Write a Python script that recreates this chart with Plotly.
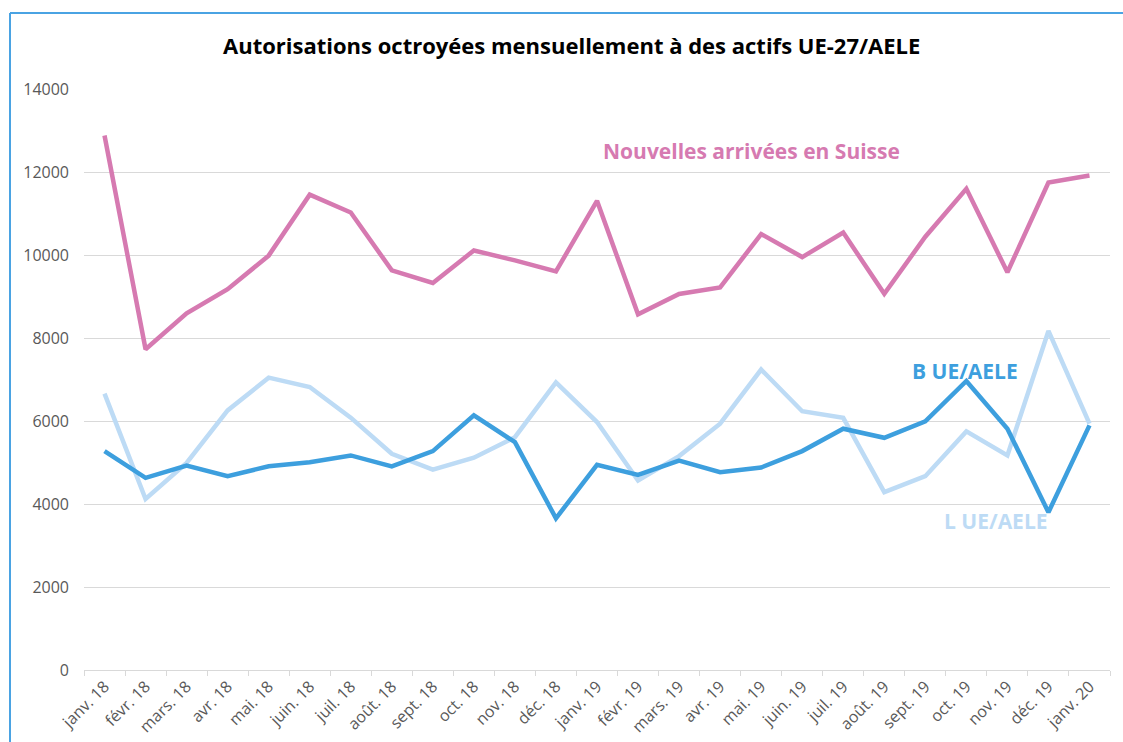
import plotly.graph_objects as go

W, H = 1123, 742
L, R, T, B = 84, 13, 89, 72

months = ["janv. 18", "févr. 18", "mars. 18", "avr. 18", "mai. 18", "juin. 18", "juil. 18",
          "août. 18", "sept. 18", "oct. 18", "nov. 18", "déc. 18",
          "janv. 19", "févr. 19", "mars. 19", "avr. 19", "mai. 19", "juin. 19", "juil. 19",
          "août. 19", "sept. 19", "oct. 19", "nov. 19", "déc. 19", "janv. 20"]

nouvelles = [12880, 7730, 8595, 9175, 9985, 11455, 11025, 9630, 9325, 10110, 9870, 9605,
             11305, 8570, 9060, 9220, 10505, 9950, 10540, 9065, 10440, 11595, 9585, 11745, 11915]
b_ue = [5275, 4630, 4925, 4670, 4910, 5005, 5170, 4905, 5275, 6135, 5490, 3655,
        4945, 4700, 5045, 4765, 4880, 5275, 5815, 5595, 5990, 6965, 5815, 3800, 5895]
l_ue = [6660, 4120, 4990, 6255, 7045, 6820, 6080, 5210, 4830, 5115, 5610, 6930,
        5975, 4565, 5155, 5935, 7240, 6235, 6075, 4285, 4670, 5750, 5170, 8170, 5935]

y_ticks = [0, 2000, 4000, 6000, 8000, 10000, 12000, 14000]

PINK = "#D67AB1"
DARK = "#3D9FDE"
LIGHT = "#BDDBF5"
FONT = "Open Sans"

fig = go.Figure()
for vals, col in [(l_ue, LIGHT), (b_ue, DARK), (nouvelles, PINK)]:
    fig.add_trace(go.Scatter(x=months, y=vals, mode="lines",
                             line=dict(color=col, width=4.5), hoverinfo="skip"))

pw = W - L - R
ph = H - T - B
def px(x):
    return (x - L) / pw
def py(y):
    return (H - B - y) / ph

annos = [
    ("Nouvelles arrivées en Suisse", 751, 151, PINK),
    ("B UE/AELE", 965, 371, DARK),
    ("L UE/AELE", 996, 521, LIGHT),
]
annotations = []
for txt, x, y, c in annos:
    annotations.append(dict(text=f"<b>{txt}</b>", x=px(x), y=py(y), xref="paper", yref="paper",
                            showarrow=False, xanchor="center", yanchor="middle",
                            font=dict(family=FONT, size=21, color=c)))
annotations.append(dict(text="<b>Autorisations octroyées mensuellement à des actifs UE-27/AELE</b>",
                        x=px(571), y=py(45), xref="paper", yref="paper", showarrow=False,
                        xanchor="center", yanchor="middle",
                        font=dict(family=FONT, size=22, color="#000000")))

shapes = [
    dict(type="line", xref="paper", yref="paper", x0=px(10), x1=px(10), y0=py(13), y1=py(750),
         line=dict(color="#4AA3E3", width=2)),
    dict(type="line", xref="paper", yref="paper", x0=px(10), x1=px(1130), y0=py(13), y1=py(13),
         line=dict(color="#4AA3E3", width=2)),
]

fig.update_layout(
    width=W, height=H,
    margin=dict(l=L, r=R, t=T, b=B, autoexpand=False),
    paper_bgcolor="white", plot_bgcolor="white",
    showlegend=False,
    font=dict(family=FONT, size=14, color="#595959"),
    annotations=annotations,
    shapes=shapes,
    xaxis=dict(type="category", tickangle=-45, tickson="boundaries", ticks="outside",
               ticklen=5, tickcolor="#D9D9D9", showline=True, linecolor="#D9D9D9",
               linewidth=1, showgrid=False, tickfont=dict(size=16, color="#595959"),
               range=[-0.5, len(months) - 0.5], automargin=False),
    yaxis=dict(range=[0, 14000], tickvals=y_ticks, ticktext=[str(v) for v in y_ticks],
               showgrid=True, gridcolor="#D9D9D9", gridwidth=1, zeroline=False,
               showline=False, ticklabelstandoff=14, automargin=False,
               tickfont=dict(size=16, color="#595959")),
)

fig.write_html("out.html", config={"displayModeBar": False},
               post_script="document.body.style.margin='0';document.body.style.overflow='hidden';")
